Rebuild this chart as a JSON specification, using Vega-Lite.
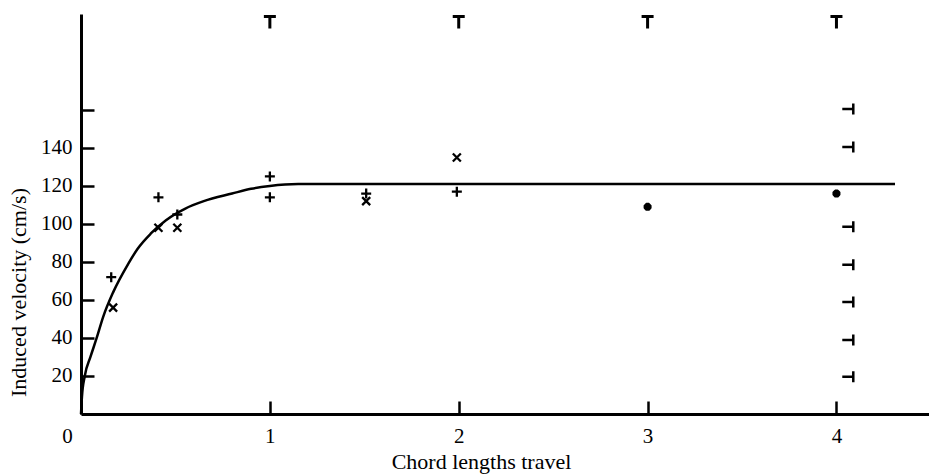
{
  "$schema": "https://vega.github.io/schema/vega-lite/v6.json",
  "width": 848,
  "height": 400,
  "autosize": {"type": "none"},
  "padding": {"left": 81, "top": 14, "right": 0, "bottom": 60},
  "background": "white",
  "config": {
    "view": {"stroke": null},
    "axis": {
      "grid": false,
      "domainColor": "black",
      "domainWidth": 3,
      "tickColor": "black",
      "tickWidth": 2.5,
      "tickSize": -13,
      "labelFont": "Liberation Serif",
      "labelFontSize": 21,
      "labelColor": "black",
      "labelFlush": false,
      "titleFont": "Liberation Serif",
      "titleFontSize": 22,
      "titleFontWeight": "normal",
      "titleColor": "black"
    }
  },
  "datasets": {
    "curve": [
      {"x": 0, "y": 0}, {"x": 0.005, "y": 9}, {"x": 0.02, "y": 20}, {"x": 0.05, "y": 30},
      {"x": 0.083, "y": 40}, {"x": 0.117, "y": 51}, {"x": 0.17, "y": 64}, {"x": 0.25, "y": 79},
      {"x": 0.3, "y": 87}, {"x": 0.37, "y": 95}, {"x": 0.45, "y": 102}, {"x": 0.55, "y": 108},
      {"x": 0.65, "y": 112}, {"x": 0.8, "y": 116}, {"x": 0.9, "y": 118.5}, {"x": 1.0, "y": 120},
      {"x": 1.15, "y": 121}, {"x": 2, "y": 121}, {"x": 3, "y": 121}, {"x": 4.31, "y": 121}
    ],
    "plus": [
      {"x": 0.16, "y": 72}, {"x": 0.41, "y": 114}, {"x": 0.51, "y": 105},
      {"x": 1.0, "y": 125}, {"x": 1.0, "y": 114}, {"x": 1.51, "y": 116}, {"x": 1.99, "y": 117}
    ],
    "cross": [
      {"x": 0.17, "y": 56}, {"x": 0.41, "y": 98}, {"x": 0.51, "y": 98},
      {"x": 1.51, "y": 112}, {"x": 1.99, "y": 135}
    ],
    "star": [
      {"x": 3.0, "y": 109}, {"x": 4.0, "y": 116}
    ],
    "tees": [
      {"x": 1, "y": 206}, {"x": 2, "y": 206}, {"x": 3, "y": 206}, {"x": 4, "y": 206}
    ],
    "right": [
      {"x": 4.06, "y": 160.5}, {"x": 4.06, "y": 140.5}, {"x": 4.06, "y": 98.5},
      {"x": 4.06, "y": 78.5}, {"x": 4.06, "y": 59}, {"x": 4.06, "y": 39}, {"x": 4.06, "y": 19.6}
    ]
  },
  "encoding": {
    "x": {
      "field": "x",
      "type": "quantitative",
      "scale": {"domain": [0, 4.49], "nice": false, "zero": false},
      "axis": {
        "values": [0, 1, 2, 3, 4],
        "title": "Chord lengths travel",
        "labelPadding": 24,
        "labelOffset": {"condition": {"test": "datum.value == 0", "value": -14}, "value": 0},
        "titleX": 400,
        "titleY": 54,
        "titleBaseline": "alphabetic",
        "titleAnchor": "middle"
      }
    },
    "y": {
      "field": "y",
      "type": "quantitative",
      "scale": {"domain": [0, 210.5], "nice": false, "zero": true},
      "axis": {
        "values": [20, 40, 60, 80, 100, 120, 140, 160],
        "labelExpr": "datum.value == 160 ? '' : datum.label",
        "title": "Induced velocity (cm/s)",
        "labelPadding": 22,
        "titleX": -63,
        "titleY": 278,
        "titleBaseline": "middle",
        "titleAlign": "center",
        "titleAngle": -90
      }
    }
  },
  "layer": [
    {
      "data": {"name": "curve"},
      "mark": {"type": "line", "color": "black", "strokeWidth": 2.5, "interpolate": "monotone", "clip": false}
    },
    {
      "data": {"name": "plus"},
      "mark": {"type": "point", "shape": "M-1,0H1M0,-1V1", "filled": false, "stroke": "black", "strokeWidth": 2.3, "size": 100, "opacity": 1}
    },
    {
      "data": {"name": "cross"},
      "mark": {"type": "point", "shape": "M-1,-1L1,1M-1,1L1,-1", "filled": false, "stroke": "black", "strokeWidth": 2.3, "size": 64, "opacity": 1}
    },
    {
      "data": {"name": "star"},
      "mark": {"type": "point", "shape": "M-1,0H1M0,-1V1M-0.7,-0.7L0.7,0.7M-0.7,0.7L0.7,-0.7", "filled": false, "stroke": "black", "strokeWidth": 3, "size": 64, "opacity": 1}
    },
    {
      "data": {"name": "tees"},
      "mark": {"type": "point", "shape": "M-1,-1H1M0,-1V1", "filled": false, "stroke": "black", "strokeWidth": 3, "size": 144, "opacity": 1, "clip": false}
    },
    {
      "data": {"name": "right"},
      "mark": {"type": "point", "shape": "M-1,0H1M1,-1V1", "filled": false, "stroke": "black", "strokeWidth": 2.5, "size": 121, "opacity": 1}
    }
  ]
}
